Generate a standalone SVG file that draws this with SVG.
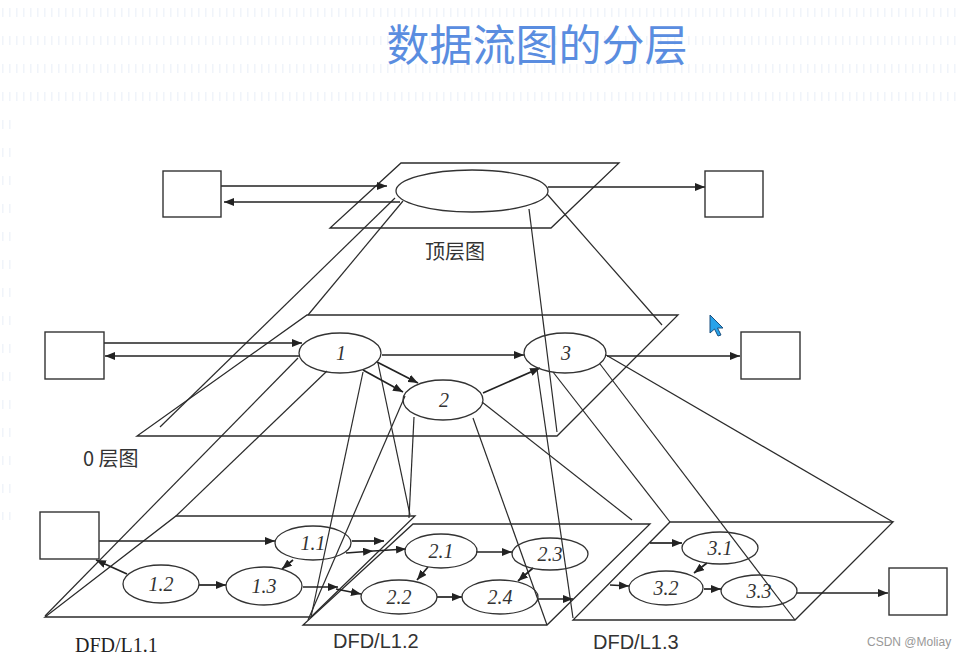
<svg xmlns="http://www.w3.org/2000/svg" width="959" height="657" viewBox="0 0 959 657">
<style>
.pl{fill:none;stroke:#2b2b2b;stroke-width:1.3}
.pj{fill:none;stroke:#2b2b2b;stroke-width:1.2}
.ar{fill:none;stroke:#222;stroke-width:1.7;marker-end:url(#ah)}
.bx{fill:#fff;stroke:#333;stroke-width:1.4}
.el{fill:none;stroke:#333;stroke-width:1.3}
.nt{font-family:"Liberation Serif","Times New Roman",serif;font-style:italic;font-size:20px;fill:#333;text-anchor:middle}
.cj{font-family:"Noto Sans CJK SC",sans-serif;font-size:20px;fill:#333}
</style>
<defs>
<marker id="ah" viewBox="0 0 10 8" refX="10" refY="4" markerWidth="10" markerHeight="8" markerUnits="userSpaceOnUse" orient="auto"><path d="M0,0 L10,4 L0,8 Z" fill="#222"/></marker>
<pattern id="dash" x="0" y="8" width="7" height="28" patternUnits="userSpaceOnUse"><rect x="2" y="0" width="1.5" height="9" fill="#f0f4fa"/></pattern>
</defs>
<rect width="959" height="657" fill="#fff"/>
<rect x="0" y="8" width="959" height="100" fill="url(#dash)"/>
<rect x="0" y="120" width="12" height="400" fill="url(#dash)"/>
<text x="537" y="61" font-family="Noto Sans CJK SC,sans-serif" font-size="43" fill="#5a8de0" text-anchor="middle">数据流图的分层</text>

<g id="planes">
<polygon class="pl" points="401,163 619,163 551,228 330,228"/>
<polygon class="pl" points="307,315 678,315 557,436 137,436"/>
<polygon class="pl" points="176,516 415,516 311,617 45,617"/>
<polygon class="pl" points="413,524 650,524 547,625 303,625"/>
<polygon class="pl" points="670,522 893,522 795,620 573,620"/>
</g>

<g id="connectors">
<line class="pj" x1="403" y1="201" x2="308" y2="315"/>
<line class="pj" x1="395" y1="198" x2="160" y2="427"/>
<line class="pj" x1="529" y1="209" x2="557" y2="432"/>
<line class="pj" x1="547" y1="194" x2="662" y2="325"/>
<line class="pj" x1="298" y1="358" x2="45" y2="616"/>
<line class="pj" x1="327" y1="371" x2="176" y2="516"/>
<line class="pj" x1="363" y1="372" x2="311" y2="617"/>
<line class="pj" x1="378" y1="363" x2="410" y2="515"/>
<line class="pj" x1="405" y1="396" x2="308" y2="620"/>
<line class="pj" x1="414" y1="417" x2="409" y2="518"/>
<line class="pj" x1="473" y1="418" x2="547" y2="625"/>
<line class="pj" x1="482" y1="402" x2="632" y2="520"/>
<line class="pj" x1="537" y1="369" x2="573" y2="618"/>
<line class="pj" x1="553" y1="372" x2="670" y2="522"/>
<line class="pj" x1="600" y1="364" x2="795" y2="620"/>
<line class="pj" x1="606" y1="355" x2="893" y2="522"/>
<line class="ar" x1="221" y1="186" x2="387" y2="186"/>
<line class="ar" x1="400" y1="202" x2="224" y2="202"/>
<line class="ar" x1="548" y1="187" x2="705" y2="187"/>
<line class="ar" x1="104" y1="343" x2="302" y2="343"/>
<line class="ar" x1="300" y1="356" x2="105" y2="356"/>
<line class="ar" x1="377" y1="362" x2="418" y2="383"/>
<line class="ar" x1="363" y1="370" x2="403" y2="392"/>
<line class="ar" x1="382" y1="355" x2="524" y2="355"/>
<line class="ar" x1="483" y1="393" x2="540" y2="368"/>
<line class="ar" x1="607" y1="356" x2="740" y2="356"/>
<line class="ar" x1="99" y1="541" x2="275" y2="541"/>
<line class="ar" x1="127" y1="574" x2="96" y2="560"/>
<line class="ar" x1="199" y1="585" x2="226" y2="585"/>
<line class="ar" x1="293" y1="560" x2="282" y2="569"/>
<line class="ar" x1="303" y1="587" x2="338" y2="587"/>
<line class="ar" x1="352" y1="541" x2="384" y2="541"/>
<line class="ar" x1="346" y1="553" x2="373" y2="551"/>
<line class="ar" x1="373" y1="551" x2="406" y2="549"/>
<line class="ar" x1="336" y1="589" x2="361" y2="594"/>
<line class="ar" x1="476" y1="552" x2="512" y2="552"/>
<line class="ar" x1="437" y1="597" x2="462" y2="597"/>
<line class="ar" x1="428" y1="567" x2="417" y2="580"/>
<line class="ar" x1="533" y1="568" x2="518" y2="581"/>
<line class="ar" x1="538" y1="599" x2="573" y2="599"/>
<line class="ar" x1="650" y1="543" x2="682" y2="543"/>
<line class="ar" x1="610" y1="585" x2="629" y2="586"/>
<line class="ar" x1="707" y1="563" x2="694" y2="573"/>
<line class="ar" x1="704" y1="589" x2="721" y2="589"/>
<line class="ar" x1="797" y1="593" x2="888" y2="593"/>
</g>

<g id="top-src"><rect class="bx" x="163" y="171" width="58" height="46"/></g>
<g id="top-proc"><ellipse class="el" cx="472" cy="191" rx="76" ry="21"/></g>
<g id="top-sink"><rect class="bx" x="705" y="171" width="58" height="46"/></g>
<g id="lbl-top"><text class="cj" x="455" y="259" text-anchor="middle">顶层图</text></g>

<g id="l0-src"><rect class="bx" x="45" y="332" width="59" height="47"/></g>
<g id="p1"><ellipse class="el" cx="340" cy="353" rx="41" ry="20"/><text class="nt" x="341" y="360" font-size="18">1</text></g>
<g id="p2"><ellipse class="el" cx="443" cy="400" rx="40" ry="20"/><text class="nt" x="444" y="407" font-size="18">2</text></g>
<g id="p3"><ellipse class="el" cx="565" cy="353" rx="41" ry="20"/><text class="nt" x="566" y="360" font-size="18">3</text></g>
<g id="l0-sink"><rect class="bx" x="741" y="332" width="59" height="47"/></g>
<g id="lbl-l0"><text class="cj" x="83" y="466">0 层图</text></g>

<g id="l1-src"><rect class="bx" x="40" y="512" width="59" height="47"/></g>
<g id="p11"><ellipse class="el" cx="313" cy="543" rx="38" ry="17"/><text class="nt" x="313" y="550">1.1</text></g>
<g id="p12"><ellipse class="el" cx="161" cy="584" rx="38" ry="19"/><text class="nt" x="161" y="591">1.2</text></g>
<g id="p13"><ellipse class="el" cx="264" cy="586" rx="38" ry="19"/><text class="nt" x="264" y="593">1.3</text></g>
<g id="p21"><ellipse class="el" cx="441" cy="551" rx="36" ry="17"/><text class="nt" x="441" y="558">2.1</text></g>
<g id="p22"><ellipse class="el" cx="399" cy="597" rx="38" ry="17"/><text class="nt" x="399" y="604">2.2</text></g>
<g id="p23"><ellipse class="el" cx="550" cy="554" rx="38" ry="16"/><text class="nt" x="550" y="561">2.3</text></g>
<g id="p24"><ellipse class="el" cx="500" cy="597" rx="38" ry="17"/><text class="nt" x="500" y="604">2.4</text></g>
<g id="p31"><ellipse class="el" cx="720" cy="548" rx="38" ry="16"/><text class="nt" x="720" y="555">3.1</text></g>
<g id="p32"><ellipse class="el" cx="666" cy="588" rx="37" ry="17"/><text class="nt" x="666" y="595">3.2</text></g>
<g id="p33"><ellipse class="el" cx="759" cy="591" rx="38" ry="16"/><text class="nt" x="759" y="598">3.3</text></g>
<g id="l1-sink"><rect class="bx" x="889" y="568" width="58" height="47"/></g>

<g id="labels">
<text x="75" y="652" font-family="Liberation Serif,serif" font-size="20" fill="#222">DFD/L1.1</text>
<text x="333" y="648" font-family="Liberation Sans,Arial,sans-serif" font-size="20" fill="#333">DFD/L1.2</text>
<text x="593" y="649" font-family="Liberation Sans,Arial,sans-serif" font-size="20" fill="#333">DFD/L1.3</text>
<text x="867" y="646" font-family="Liberation Sans,Arial,sans-serif" font-size="12" fill="#999">CSDN @Moliay</text>
</g>
<g id="cursor"><polygon points="710,315 710,333 714.5,329 718,336 721,335 717.5,328 723,328" fill="#29a3ea" stroke="#1b4f7e" stroke-width="1"/></g>
</svg>
